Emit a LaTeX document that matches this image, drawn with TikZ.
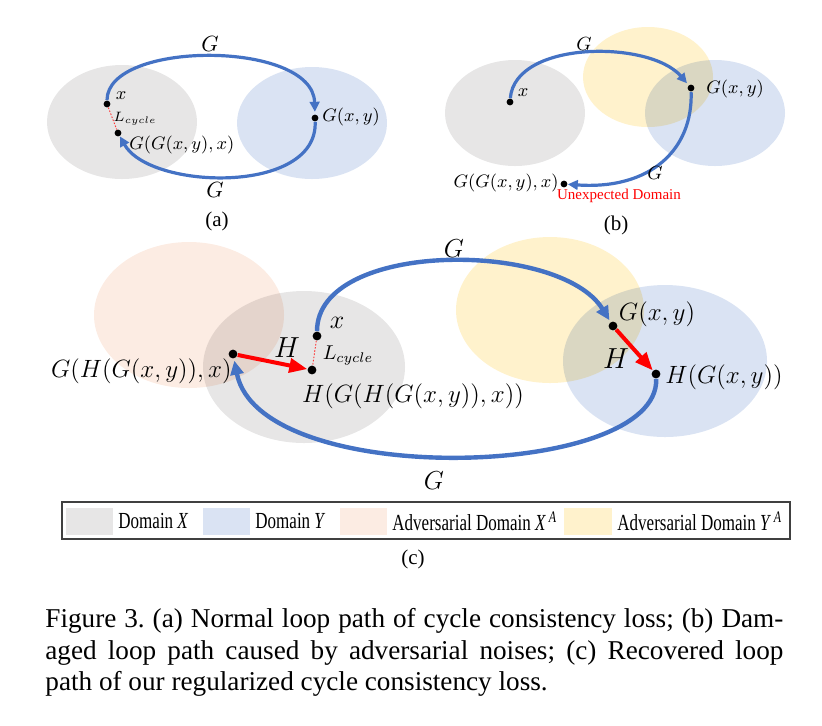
\RequirePackage{fix-cm}
\documentclass[tikz,border=0pt]{standalone}
\usepackage{fontspec}
\setmainfont{Liberation Serif}
\usetikzlibrary{arrows.meta}
\definecolor{domX}{RGB}{231,230,230}
\definecolor{domY}{RGB}{218,227,243}
\definecolor{advX}{RGB}{252,236,227}
\definecolor{advY}{RGB}{255,242,204}
\definecolor{arcblue}{RGB}{68,114,196}
\tikzset{
  dotA/.style={circle,fill=black,inner sep=0pt,minimum size=3.4pt},
  dotC/.style={circle,fill=black,inner sep=0pt,minimum size=4.4pt},
  arcA/.style={draw=arcblue,line width=1.6pt,-{Triangle[length=5pt,width=4.8pt]}},
  arcC/.style={draw=arcblue,line width=2.2pt,-{Triangle[length=7pt,width=6.5pt]}},
  redarr/.style={draw=red,line width=2pt,-{Triangle[length=9pt,width=7pt]}},
  lcyc/.style={draw=red!80,line width=0.45pt,dash pattern=on 0.8pt off 0.8pt},
  mA/.style={inner sep=0pt,font=\fontsize{9}{10}\selectfont},
  gA/.style={inner sep=0pt,font=\fontsize{11}{12}\selectfont},
  gB/.style={inner sep=0pt,font=\fontsize{9.5}{11}\selectfont},
  lsmall/.style={inner sep=0pt,font=\fontsize{6.8}{8}\selectfont},
  mC/.style={inner sep=0pt,font=\fontsize{12.5}{14}\selectfont},
  gC/.style={inner sep=0pt,font=\fontsize{13}{15}\selectfont},
  hC/.style={inner sep=0pt,font=\fontsize{14.5}{16}\selectfont},
  lC/.style={inner sep=0pt,font=\fontsize{10}{12}\selectfont},
  sub/.style={inner sep=0pt,font=\fontsize{10.5}{12}\selectfont},
  leg/.style={inner sep=0pt,anchor=west,font=\fontsize{11.5}{13}\selectfont},
  capt/.style={inner sep=0pt,anchor=base west,font=\fontsize{13.6}{17}\selectfont\frenchspacing},
}
\newcommand{\legsq}[1]{\scalebox{0.74}[1]{#1}}
\begin{document}
\begin{tikzpicture}[x=0.5pt,y=-0.5pt]
\useasboundingbox (0,0) rectangle (822,725);
% ---------- domains ----------
\begin{scope}[blend mode=multiply]
\fill[domX] (122,122) ellipse [x radius=75, y radius=57];
\fill[domY] (312,123) ellipse [x radius=75, y radius=56];
\fill[domX] (515,113) ellipse [x radius=70, y radius=53];
\fill[domY] (715,113) ellipse [x radius=70, y radius=53];
\fill[advY] (648,77) ellipse [x radius=65, y radius=50];
\fill[advX] (189,315) ellipse [x radius=95, y radius=73];
\fill[domX] (304,367) ellipse [x radius=101, y radius=76];
\fill[advY] (550,310) ellipse [x radius=94, y radius=73];
\fill[domY] (665,361) ellipse [x radius=102, y radius=76];
\end{scope}
% ---------- (a) ----------
\node[dotA] (xa) at (107,104) {};
\node[dotA] (gga) at (118,133) {};
\node[dotA] (gxya) at (315,118) {};
\draw[arcA,shorten >=1.2pt] (xa) .. controls (107,40) and (313,40) .. (gxya);
\draw[arcA] (gxya) .. controls (318,195) and (150,190) .. (gga);
\draw[lcyc] (xa) -- (gga);
\node[gA] (ga1) at (210,44) {$G$};
\node[gA] (ga2) at (215,190) {$G$};
\node[mA] (lxa) at (121,96) {$x$};
\node[lsmall] (lla) at (135,119) {$L_{cycle}$};
\node[mA,anchor=west] (lgxya) at (322,117) {$G(x,y)$};
\node[mA,anchor=west] (lgga) at (129,145) {$G(G(x,y),x)$};
\node[sub] (suba) at (217,221) {(a)};
% ---------- (b) ----------
\node[dotA] (xb) at (510,102) {};
\node[dotA] (gxyb) at (691,88) {};
\node[dotA] (ggb) at (564,184) {};
\draw[arcA,shorten >=1.2pt] (xb) .. controls (515,40) and (650,40) .. (gxyb);
\draw[arcA] (gxyb) .. controls (693,150) and (650,190) .. (ggb);
\node[gB] (gb1) at (584,44) {$G$};
\node[gB] (gb2) at (655,173) {$G$};
\node[mA] (lxb) at (523,93) {$x$};
\node[mA,anchor=west] (lgxyb) at (706,89) {$G(x,y)$};
\node[mA,anchor=east] (lggb) at (559,183) {$G(G(x,y),x)$};
\node[inner sep=0pt,text=red,font=\fontsize{7.5}{9}\selectfont] (unexp) at (619,196) {Unexpected Domain};
\node[sub] (subb) at (616,225) {(b)};
% ---------- (c) ----------
\node[dotC] (xc) at (317,336) {};
\node[dotC] (ggc) at (233,354) {};
\node[dotC] (hgc) at (312,370) {};
\node[dotC] (gxyc) at (613,326) {};
\node[dotC] (hgxyc) at (656,374) {};
\draw[arcC,shorten >=1pt] (xc) .. controls (317,240) and (560,240) .. (gxyc);
\draw[arcC,shorten >=1pt] (hgxyc) .. controls (660,480) and (260,490) .. (ggc);
\draw[redarr] (ggc) -- (hgc);
\draw[redarr] (gxyc) -- (hgxyc);
\draw[lcyc] (xc) -- (hgc);
\node[gC] (gc1) at (454,249) {$G$};
\node[gC] (gc2) at (434,481) {$G$};
\node[gC] (lxc) at (337,323) {$x$};
\node[lC] (llc) at (348,356) {$L_{cycle}$};
\node[hC] (hc1) at (287,348) {$H$};
\node[hC] (hc2) at (616,359) {$H$};
\node[mC,anchor=east] (lggc) at (232,371) {$G(H(G(x,y)),x)$};
\node[mC] (lhgc) at (413,396) {$H(G(H(G(x,y)),x))$};
\node[mC] (lgxyc) at (657,314) {$G(x,y)$};
\node[mC] (lhgxyc) at (724,377) {$H(G(x,y))$};
% ---------- legend ----------
\draw[draw=black!75,line width=0.6pt] (62,502) rectangle (790,539);
\fill[domX] (66,508) rectangle (113,535);
\fill[domY] (203,508) rectangle (250,535);
\fill[advX] (340,508) rectangle (387,535);
\fill[advY] (564,508) rectangle (612,535);
\node[leg] (l1) at (118,521) {\legsq{Domain \textit{X}}};
\node[leg] (l2) at (255,521) {\legsq{Domain \textit{Y}}};
\node[leg] (l3) at (392,521) {\legsq{Adversarial Domain \textit{X}\,\textsuperscript{\textit{A}}}};
\node[leg] (l4) at (617,521) {\legsq{Adversarial Domain \textit{Y}\,\textsuperscript{\textit{A}}}};
\node[sub] (subc) at (413,559) {(c)};
% ---------- caption ----------
\node[capt] (cap1) at (45,627) {\makebox[369pt][s]{Figure 3. (a) Normal loop path of cycle consistency loss; (b) Dam-}};
\node[capt] (cap2) at (45,659) {\makebox[369pt][s]{aged loop path caused by adversarial noises; (c) Recovered loop}};
\node[capt] (cap3) at (45,690) {path of our regularized cycle consistency loss.};
\end{tikzpicture}
\end{document}
